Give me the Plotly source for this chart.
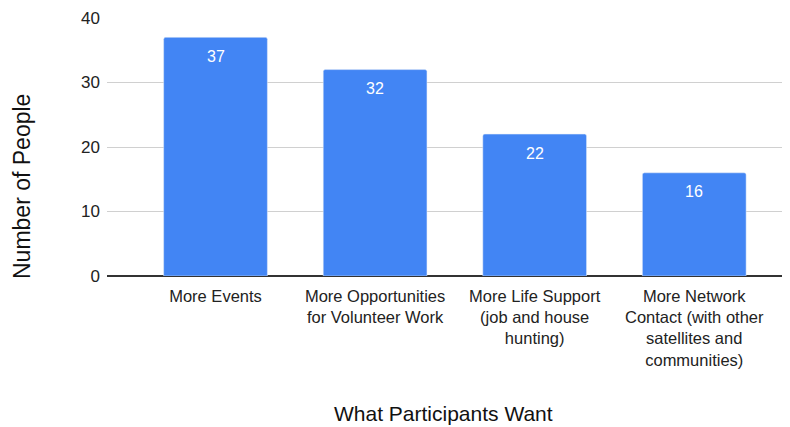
import plotly.graph_objects as go

categories = [
    "More Events",
    "More Opportunities<br>for Volunteer Work",
    "More Life Support<br>(job and house<br>hunting)",
    "More Network<br>Contact (with other<br>satellites and<br>communities)",
]
values = [37, 32, 22, 16]
y_ticks = [0, 10, 20, 30, 40]

FONT = "Liberation Sans, Arial, sans-serif"

# page body has an 8px margin, so the figure is 8px smaller than the window
W, H = 782, 419
ML, MR, MT, MB = 99, 0, 10, 151

xs = list(range(len(categories)))

fig = go.Figure(
    go.Bar(
        x=xs,
        y=values,
        marker=dict(color="#4285F4", cornerradius=2),
        width=0.65,
        hoverinfo="y",
    )
)

annotations = [
    dict(
        x=xi, y=v, xref="x", yref="y", text=str(v), showarrow=False,
        yanchor="middle", yshift=-19,
        font=dict(color="white", size=16, family=FONT),
    )
    for xi, v in zip(xs, values)
]

pw = W - ML - MR
ph = H - MT - MB


def px_to_paper(px, py):
    return (px - ML) / pw, (H - MB - py) / ph


tx, ty = px_to_paper(435, 405)
annotations.append(dict(
    text="What Participants Want", x=tx, y=ty, xref="paper", yref="paper",
    xanchor="center", yanchor="middle", showarrow=False,
    font=dict(size=21, color="#111111", family=FONT),
))
tx, ty = px_to_paper(14, 179)
annotations.append(dict(
    text="Number of People", x=tx, y=ty, xref="paper", yref="paper",
    xanchor="center", yanchor="middle", showarrow=False, textangle=-90,
    font=dict(size=23, color="#111111", family=FONT),
))

fig.update_layout(
    width=W,
    height=H,
    margin=dict(l=ML, r=MR, t=MT, b=MB, autoexpand=False),
    plot_bgcolor="white",
    paper_bgcolor="white",
    font=dict(family=FONT, size=16, color="#222222"),
    showlegend=False,
    xaxis=dict(
        tickmode="array",
        tickvals=xs,
        ticktext=categories,
        range=[-0.68, 3.6],
        showgrid=False,
        zeroline=False,
        ticks="",
        automargin=False,
        ticklabelstandoff=8,
        tickfont=dict(size=16.5, color="#222222"),
    ),
    yaxis=dict(
        range=[0, 40],
        tickvals=y_ticks,
        showgrid=True,
        gridcolor="#d0d0d0",
        gridwidth=1,
        zeroline=True,
        zerolinecolor="#333333",
        zerolinewidth=1.5,
        ticks="",
        automargin=False,
        ticklabelstandoff=6,
        tickfont=dict(size=17, color="#222222"),
    ),
    annotations=annotations,
)

fig.write_html("out.html")
